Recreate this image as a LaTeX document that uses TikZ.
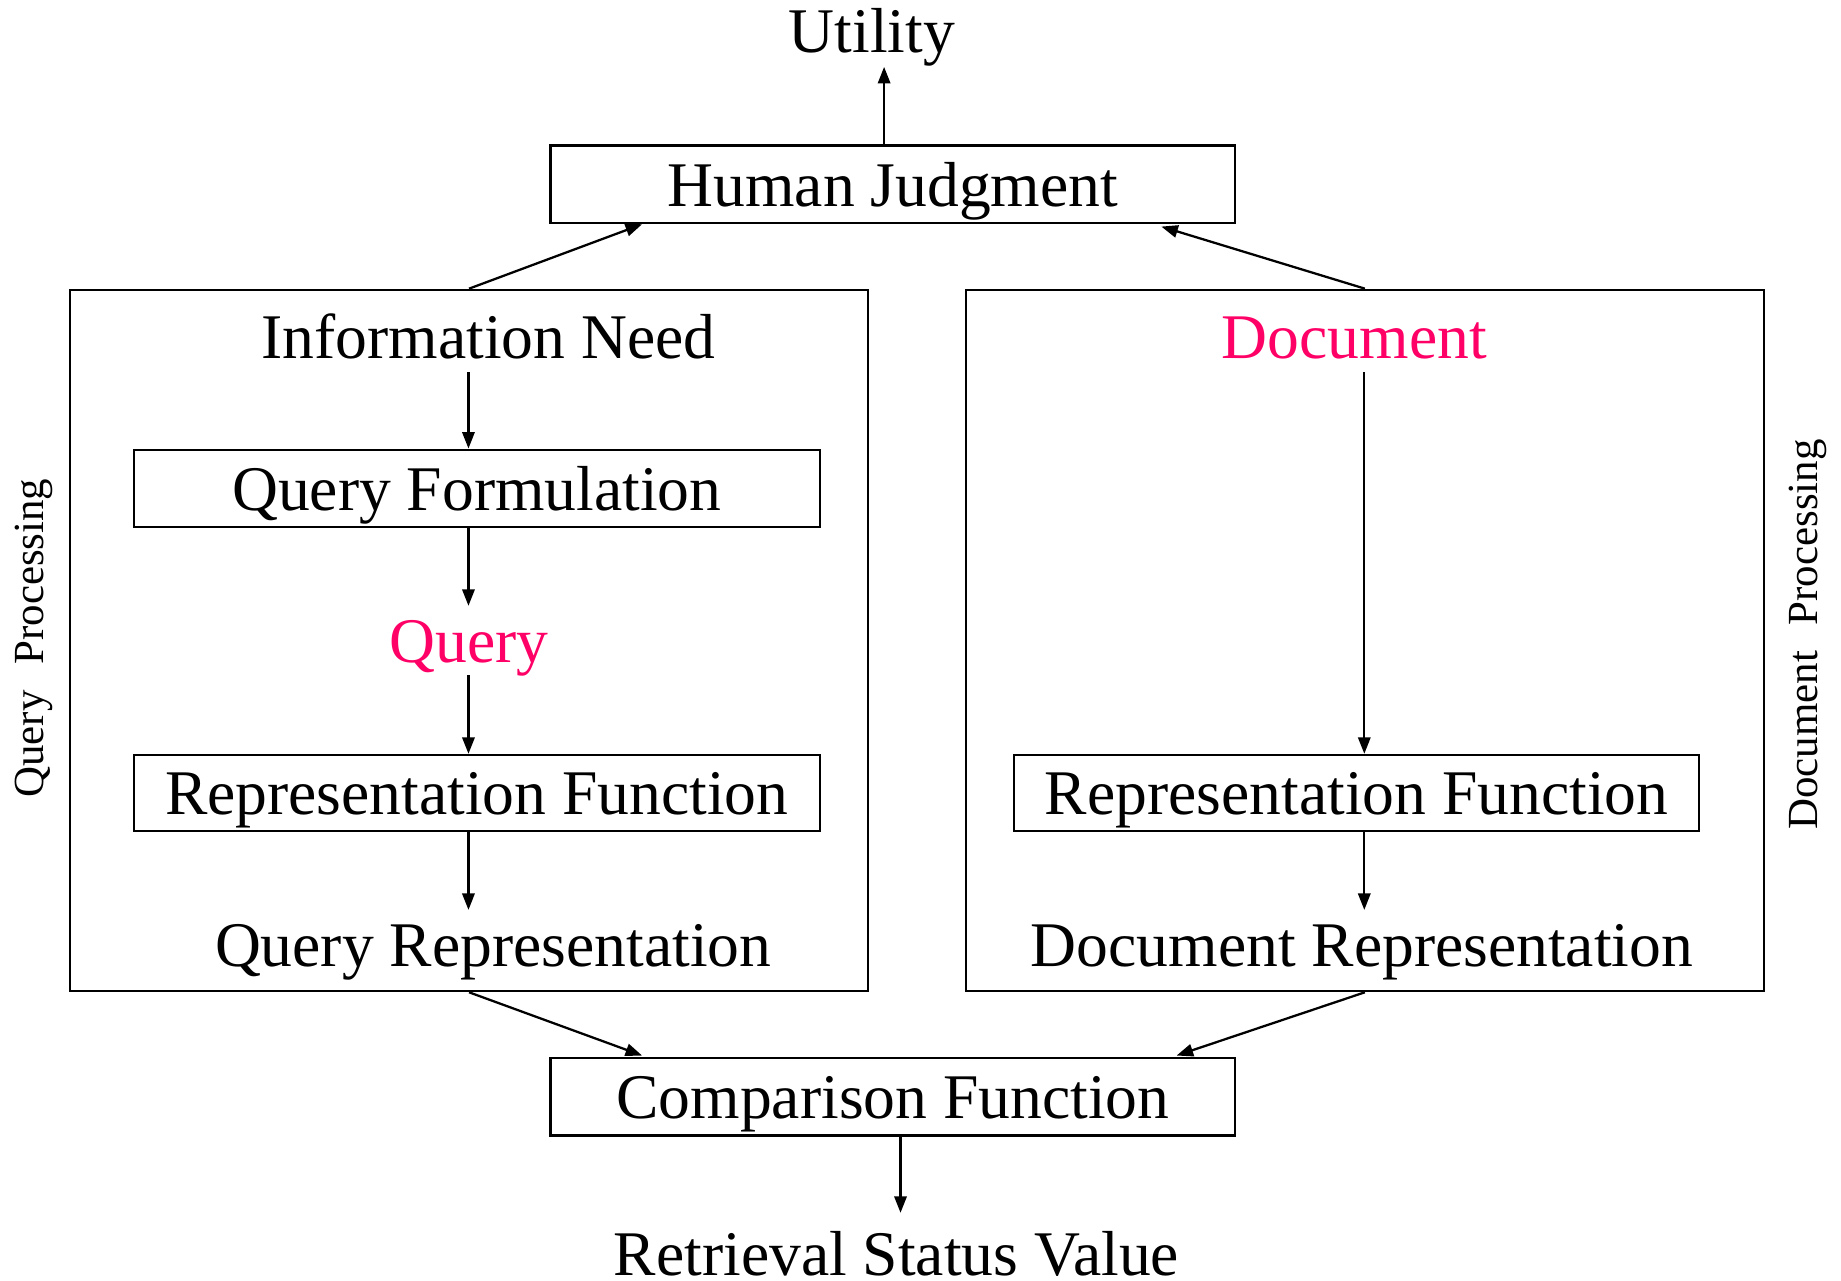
\documentclass[tikz,border=0pt]{standalone}
\usepackage{fontspec}
\setmainfont{Liberation Serif}
\usetikzlibrary{arrows.meta,calc}
\definecolor{hot}{HTML}{FF0066}
\begin{document}
\begin{tikzpicture}[x=0.01cm,y=-0.01cm,
  box/.style={draw, line width=0.55pt, inner sep=0pt},
  txt/.style={font=\fontsize{15.4}{18}\selectfont, inner sep=0pt, anchor=base},
  side/.style={font=\fontsize{10.4}{12}\selectfont, inner sep=0pt, anchor=base, rotate=90},
  arr/.style={-{Triangle[length=4pt,width=3pt]}, line width=0.55pt}]
\useasboundingbox (0,0) rectangle (1568,1091);

% frames
\node[box, minimum width=6.79cm, minimum height=5.97cm] (lbox) at (399.5,545.5) {};
\node[box, minimum width=6.79cm, minimum height=5.97cm] (rbox) at (1162.5,545.5) {};
\node[box, minimum width=5.83cm, minimum height=0.66cm] (hj) at (760.5,157) {};
\node[box, minimum width=5.84cm, minimum height=0.66cm] (qf) at (406,416) {};
\node[box, minimum width=5.84cm, minimum height=0.65cm] (rfl) at (406,675.5) {};
\node[box, minimum width=5.83cm, minimum height=0.65cm] (rfr) at (1155.5,675.5) {};
\node[box, minimum width=5.83cm, minimum height=0.66cm] (cf) at (760.5,934) {};

% texts
\node[txt] (util) at (742.5,45) {Utility};
\node[txt] (hjt) at (760.5,176) {Human Judgment};
\node[txt] (info) at (416,305) {Information Need};
\node[txt] (qft) at (406,435) {Query Formulation};
\node[txt, text=hot] (query) at (399.5,564) {Query};
\node[txt] (rflt) at (406,694) {Representation Function};
\node[txt] (qrep) at (420,823) {Query Representation};
\node[txt, text=hot] (doc) at (1153.5,305) {Document};
\node[txt] (rfrt) at (1155.5,694) {Representation Function};
\node[txt] (drep) at (1160,823) {Document Representation};
\node[txt] (cft) at (760.5,953) {Comparison Function};
\node[txt] (rsv) at (763.5,1086) {Retrieval Status Value};
\node[side] (qproc) at (37,543.5) {Query\hspace{0.6em}Processing};
\node[side] (dproc) at (1548,540.5) {Document\hspace{0.6em}Processing};

% arrow columns and text-side arrow ends
\coordinate (cL) at (399,0);
\coordinate (cR) at (1162,0);
\coordinate (cU) at (753,0);
\coordinate (cB) at (767,0);
\coordinate (utilE) at ([yshift=-0.12cm]util.base);
\coordinate (infoE) at ([yshift=-0.12cm]info.base);
\coordinate (queryT) at ([yshift=0.48cm]query.base);
\coordinate (queryE) at ([yshift=-0.11cm]query.base);
\coordinate (qrepT) at ([yshift=0.48cm]qrep.base);
\coordinate (docE) at ([yshift=-0.12cm]doc.base);
\coordinate (drepT) at ([yshift=0.48cm]drep.base);
\coordinate (rsvT) at ([yshift=0.53cm]rsv.base);

% connectors
\draw[arr] (hj.north -| cU) -- (utilE -| cU);
\draw[arr] (lbox.north) -- ($(hj.south west)+(79,0)$);
\draw[arr] (rbox.north) -- ($(hj.south east)+(-64,2)$);
\draw[arr] (infoE -| cL) -- (qf.north -| cL);
\draw[arr] (qf.south -| cL) -- (queryT -| cL);
\draw[arr] (queryE -| cL) -- (rfl.north -| cL);
\draw[arr] (rfl.south -| cL) -- (qrepT -| cL);
\draw[arr] (docE -| cR) -- (rfr.north -| cR);
\draw[arr] (rfr.south -| cR) -- (drepT -| cR);
\draw[arr] (lbox.south) -- ($(cf.north west)+(79,-1)$);
\draw[arr] (rbox.south) -- ($(cf.north east)+(-51,-1)$);
\draw[arr] (cf.south -| cB) -- (rsvT -| cB);
\end{tikzpicture}
\end{document}
